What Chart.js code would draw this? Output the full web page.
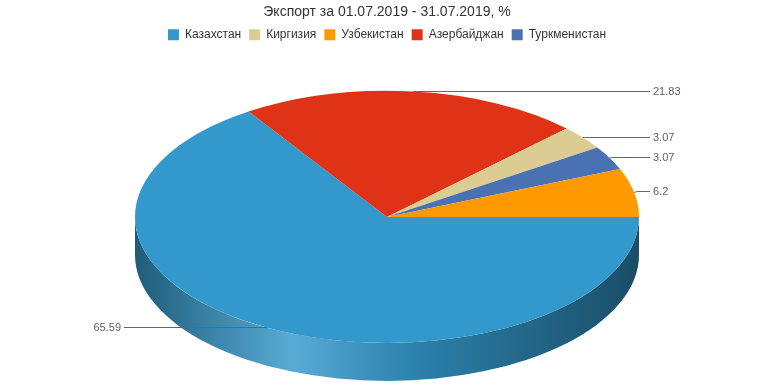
<!DOCTYPE html>
<html>
<head>
<meta charset="utf-8">
<script src="https://cdn.jsdelivr.net/npm/chart.js@4.4.0/dist/chart.umd.min.js"></script>
<style>
  html, body { margin: 0; padding: 0; background: #fff; }
  #wrap { width: 774px; height: 387px; }
</style>
</head>
<body>
<div id="wrap"><canvas id="chart" width="774" height="387"></canvas></div>
<script>
// slices in drawing order (clockwise from 3 o'clock)
const categories = ['Казахстан', 'Азербайджан', 'Киргизия', 'Туркменистан', 'Узбекистан']
const values = [65.59, 21.83, 3.07, 3.07, 6.2]
const legendOrder = ['Казахстан', 'Киргизия', 'Узбекистан', 'Азербайджан', 'Туркменистан']
const sliceColors = ['#3399cc', '#e03216', '#dbcc92', '#4a72b2', '#ff9900']

const FONT = "'Liberation Sans', Arial, sans-serif"
const TILT = 0.5   // vertical squash of the pie
const DEPTH = 38   // side wall height

function shade(hex, f) {
  const n = parseInt(hex.slice(1), 16)
  let r = (n >> 16) & 255, g = (n >> 8) & 255, b = n & 255
  if (f < 0) {
    r = r * (1 + f); g = g * (1 + f); b = b * (1 + f)
  } else {
    r = r + (255 - r) * f; g = g + (255 - g) * f; b = b + (255 - b) * f
  }
  return 'rgb(' + Math.round(r) + ',' + Math.round(g) + ',' + Math.round(b) + ')'
}

const pie3d = {
  id: 'pie3d',
  beforeDatasetsDraw(chart) {
    const ctx = chart.ctx
    const meta = chart.getDatasetMeta(0)
    const first = meta.data[0]
    const cx = first.x, cy = first.y, r = first.outerRadius

    // side walls, only the front half (0..PI) is visible
    meta.data.forEach((arc, i) => {
      const a1 = Math.max(arc.startAngle, 0)
      const a2 = Math.min(arc.endAngle, Math.PI)
      if (a2 <= a1) return
      const base = sliceColors[i]
      const grad = ctx.createLinearGradient(cx - r, 0, cx + r, 0)
      grad.addColorStop(0, shade(base, -0.4))
      grad.addColorStop(0.31, shade(base, 0.18))
      grad.addColorStop(0.55, shade(base, -0.15))
      grad.addColorStop(1, shade(base, -0.5))
      ctx.save()
      ctx.beginPath()
      ctx.ellipse(cx, cy, r, r * TILT, 0, a1, a2, false)
      ctx.ellipse(cx, cy + DEPTH, r, r * TILT, 0, a2, a1, true)
      ctx.closePath()
      ctx.fillStyle = grad
      ctx.fill()
      ctx.restore()
    })

    ctx.save()
    ctx.translate(0, cy)
    ctx.scale(1, TILT)
    ctx.translate(0, -cy)
  },
  afterDatasetsDraw(chart) {
    chart.ctx.restore()
  },
  afterDraw(chart) {
    const ctx = chart.ctx
    const meta = chart.getDatasetMeta(0)
    const data = chart.data.datasets[0].data
    ctx.save()
    ctx.strokeStyle = '#666666'
    ctx.lineWidth = 1
    ctx.fillStyle = '#606060'
    ctx.font = '11px ' + FONT
    ctx.textBaseline = 'middle'
    meta.data.forEach((arc, i) => {
      const mid = (arc.startAngle + arc.endAngle) / 2
      const cx = arc.x, cy = arc.y, r = arc.outerRadius
      const ex = cx + r * Math.cos(mid)
      const ey = cy + r * TILT * Math.sin(mid)
      const dir = Math.cos(mid) >= 0 ? 1 : -1
      const endX = cx + dir * (r + 11)
      const ly = Math.round(ey - 1) + 0.5
      ctx.beginPath()
      ctx.moveTo(ex, ey)
      ctx.lineTo(ex + dir * 3, ly)
      ctx.lineTo(endX, ly)
      ctx.stroke()
      ctx.textAlign = dir > 0 ? 'left' : 'right'
      ctx.fillText(String(data[i]), endX + dir * 3, ly)
    })
    ctx.restore()
  }
}

new Chart(document.getElementById('chart'), {
  type: 'pie',
  data: {
    labels: categories,
    datasets: [{
      data: values,
      backgroundColor: sliceColors,
      borderWidth: 0,
      hoverOffset: 0,
      clip: false
    }]
  },
  options: {
    responsive: false,
    animation: false,
    events: [],
    rotation: 90,
    radius: 252,
    layout: { padding: { top: 0, bottom: 4 } },
    plugins: {
      title: {
        display: true,
        text: 'Экспорт за 01.07.2019 - 31.07.2019, %',
        color: '#333333',
        font: { family: FONT, size: 14, weight: 'normal' },
        padding: { top: 4, bottom: 0 }
      },
      legend: {
        position: 'top',
        labels: {
          color: '#333333',
          font: { family: FONT, size: 12 },
          boxWidth: 11,
          boxHeight: 11,
          padding: 8,
          sort: (a, b) => legendOrder.indexOf(a.text) - legendOrder.indexOf(b.text)
        }
      },
      tooltip: { enabled: false }
    }
  },
  plugins: [pie3d]
})
</script>
</body>
</html>
